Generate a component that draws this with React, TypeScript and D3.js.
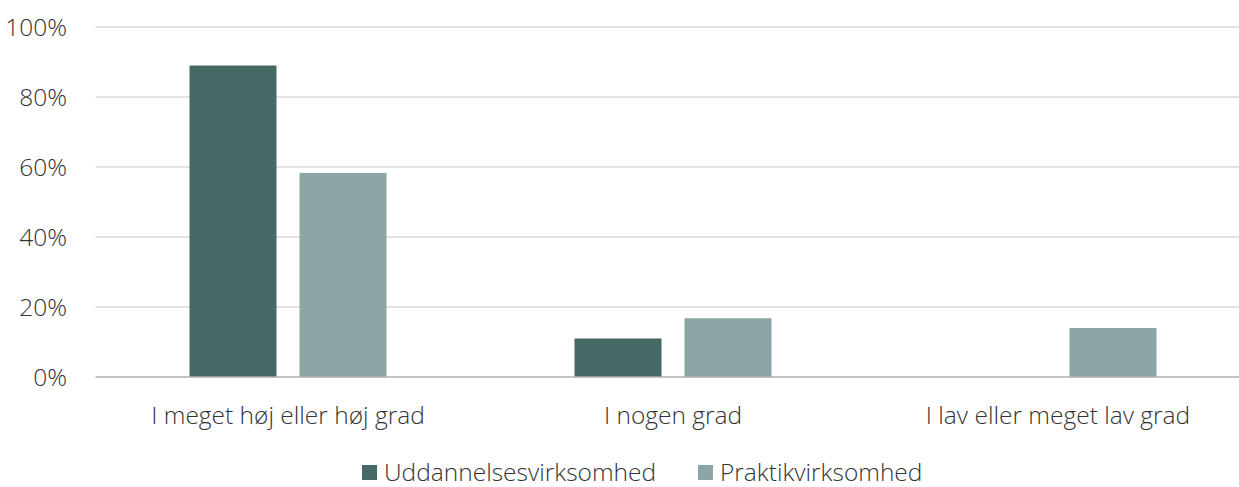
import React from "react";
import * as d3 from "d3";

const categories = ["I meget høj eller høj grad", "I nogen grad", "I lav eller meget lav grad"];
const seriesNames = ["Uddannelsesvirksomhed", "Praktikvirksomhed"];
const uddannelse = [89, 11, 0];
const praktik = [58.3, 16.8, 14];
const yTicks = [0, 20, 40, 60, 80, 100];
const colors = ["#466966", "#8ba6a5"];

export default function App() {
  const W = 1239, H = 487;
  const x0 = d3.scaleBand<string>().domain(categories).range([95.5, 1250.5]).paddingInner(0).paddingOuter(0);
  const x1 = d3.scaleBand<string>().domain(seriesNames).range([94, 291]).paddingInner(23 / 110).paddingOuter(0);
  const y = d3.scaleLinear().domain([0, 100]).range([377, 27]);
  const series = [uddannelse, praktik];
  const font = "'Open Sans', 'Segoe UI', sans-serif";
  const legendX = [362, 698];
  const fs = 24.5;
  return (
    <svg width={W} height={H} style={{ position: "absolute", left: 0, top: 0, background: "#fff" }} fontFamily={font}>
      {yTicks.map((t) => (
        <g key={t}>
          {t !== 0 && <line x1={95.5} x2={W} y1={y(t)} y2={y(t)} stroke="#d9d9d9" strokeWidth={1.5} />}
          <text x={67} y={y(t)} dy="0.35em" textAnchor="end" fontSize={fs} fontWeight={300} fill="#333">{t}%</text>
        </g>
      ))}
      {categories.map((c, i) => (
        <g key={c}>
          {series.map((s, j) => (
            s[i] > 0 ? (
              <rect key={j} x={(x0(c) as number) + (x1(seriesNames[j]) as number)} width={x1.bandwidth()} y={y(s[i])} height={y(0) - y(s[i])} fill={colors[j]} />
            ) : null
          ))}
          <text x={(x0(c) as number) + x0.bandwidth() / 2} y={415} dy="0.35em" textAnchor="middle" fontSize={fs} fontWeight={300} fill="#333">{c}</text>
        </g>
      ))}
      <line x1={95.5} x2={W} y1={y(0)} y2={y(0)} stroke="#b0b0b0" strokeWidth={1.5} />
      {seriesNames.map((n, j) => (
        <g key={n}>
          <rect x={legendX[j]} y={465} width={15} height={15} fill={colors[j]} />
          <text x={legendX[j] + 22} y={472.5} dy="0.35em" fontSize={fs} fontWeight={300} fill="#333">{n}</text>
        </g>
      ))}
    </svg>
  );
}
